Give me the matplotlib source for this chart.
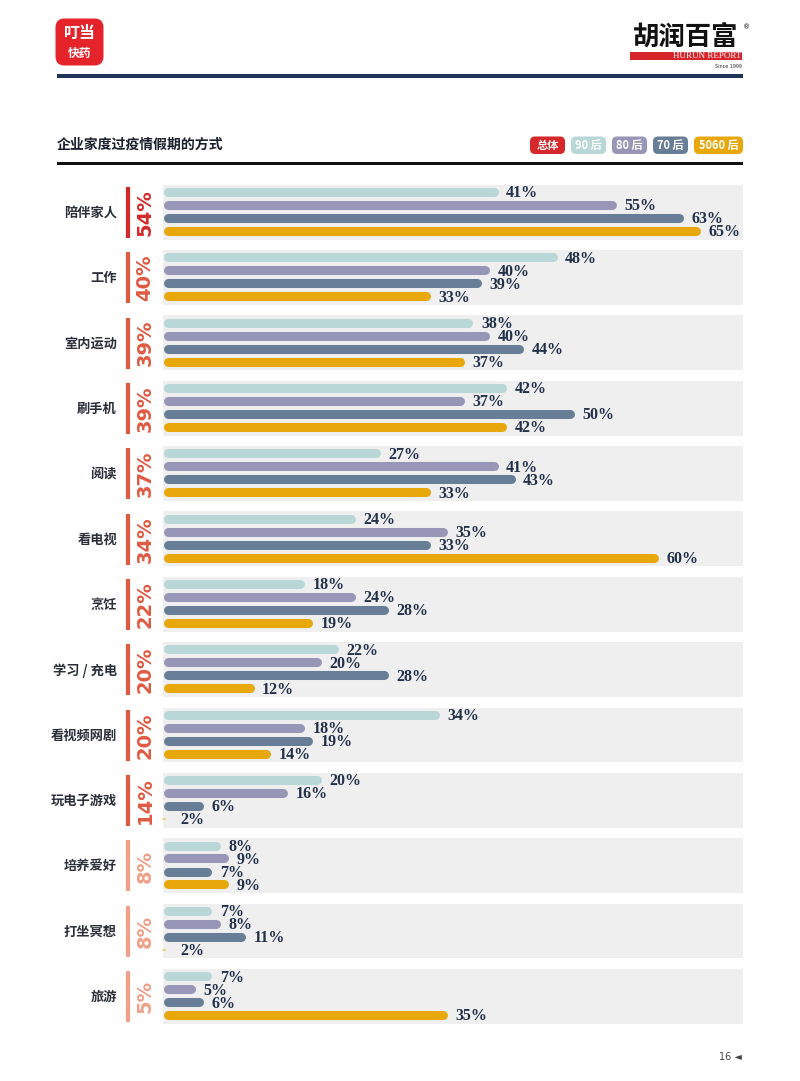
import matplotlib
matplotlib.use("Agg")
import matplotlib.pyplot as plt
from matplotlib.patches import Rectangle, FancyBboxPatch

plt.rcParams["font.family"] = ["Noto Sans CJK SC", "DejaVu Sans"]

# data
CATEGORIES = ["陪伴家人", "工作", "室内运动", "刷手机", "阅读", "看电视", "烹饪",
              "学习 / 充电", "看视频网剧", "玩电子游戏", "培养爱好", "打坐冥想", "旅游"]
TOTAL = [54, 40, 39, 39, 37, 34, 22, 20, 20, 14, 8, 8, 5]
GEN_90 = [41, 48, 38, 42, 27, 24, 18, 22, 34, 20, 8, 7, 7]
GEN_80 = [55, 40, 40, 37, 41, 35, 24, 20, 18, 16, 9, 8, 5]
GEN_70 = [63, 39, 44, 50, 43, 33, 28, 28, 19, 6, 7, 11, 6]
GEN_5060 = [65, 33, 37, 42, 33, 60, 19, 12, 14, 2, 9, 2, 35]
LEGEND_LABELS = ["总体", "90 后", "80 后", "70 后", "5060 后"]

TITLE = "企业家度过疫情假期的方式"

COLORS = ["#b9d7d6", "#9896b6", "#687d96", "#e8a80c"]
TOTAL_RED = "#d4282b"
TEXT_DARK = "#22304a"

W, H = 800, 1081
fig = plt.figure(figsize=(W / 100, H / 100), dpi=100)

# overlay in pixel coordinates for page decorations
deco = fig.add_axes([0, 0, 1, 1])
deco.set_xlim(0, W)
deco.set_ylim(H, 0)
deco.axis("off")

# logo left
deco.add_patch(FancyBboxPatch((57, 20), 45, 44, boxstyle="round,pad=1.5,rounding_size=9",
                              fc="#e5232b", ec="none"))
deco.text(79.5, 33, "叮当", color="white", fontsize=11.5, fontweight="bold", ha="center", va="center")
deco.text(79.5, 53, "快药", color="white", fontsize=8.5, fontweight="bold", ha="center", va="center")

# logo right
deco.text(686, 37, "胡润百富", color="#111111", fontsize=19, fontweight="bold", ha="center", va="center")
deco.text(747, 27, "®", color="#111111", fontsize=5, ha="center", va="center", family="DejaVu Sans")
deco.add_patch(Rectangle((630, 52), 112, 8, fc="#d7262b", ec="none"))
deco.text(741, 56.5, "HURUN REPORT", color="white", fontsize=6.5, ha="right", va="center",
          family="Liberation Serif")
deco.text(742, 66, "Since 1999", color="#333333", fontsize=3.5, ha="right", va="center",
          family="DejaVu Sans")

# header rule
deco.add_patch(Rectangle((57, 73.5), 686, 4.5, fc="#1d3557", ec="none"))

# title + legend badges
deco.text(57, 145, TITLE, color="#1a1f2c", fontsize=10, fontweight="bold", ha="left", va="center")
badge_x = [530, 571, 612, 653, 694]
badge_w = [35, 35, 35, 35, 49]
badge_c = [TOTAL_RED] + COLORS
for lab, bx, bw, bc in zip(LEGEND_LABELS, badge_x, badge_w, badge_c):
    deco.add_patch(FancyBboxPatch((bx + 2, 138.5), bw - 4, 13.5, boxstyle="round,pad=2,rounding_size=5",
                                  fc=bc, ec="none"))
    deco.text(bx + bw / 2, 145.5, lab, color="white", fontsize=8, fontweight="bold",
              ha="center", va="center")
deco.add_patch(Rectangle((57, 162), 686, 3, fc="#111111", ec="none"))

deco.text(742, 1057, "16 ◄", color="#444444", fontsize=7, ha="right", va="center",
          family="DejaVu Sans")

# main bar area
P0, SCALE = 148.5, 8.42          # pixel of x=0 (line end), px per %
GROUP0, GSTEP = 211.5, 65.35     # pixel of first group centre, group spacing
AX_L, AX_R = 163, 743
n = len(CATEGORIES)
ax_top = GROUP0 - GSTEP / 2
ax_bot = GROUP0 + GSTEP * (n - 0.5)
ax = fig.add_axes([AX_L / W, 1 - ax_bot / H, (AX_R - AX_L) / W, (ax_bot - ax_top) / H])
ax.patch.set_alpha(0)


def px2x(px):
    return (px - P0) / SCALE


ax.set_xlim(px2x(AX_L), px2x(AX_R))
ax.set_ylim(n - 0.5, -0.5)
ax.axis("off")

bar_start = px2x(AX_L + 4.5)
offsets = [-0.298, -0.0995, 0.0995, 0.298]
series = [GEN_90, GEN_80, GEN_70, GEN_5060]

for i, cat in enumerate(CATEGORIES):
    ax.add_patch(Rectangle((px2x(AX_L), i - 0.41), px2x(AX_R) - px2x(AX_L), 0.84,
                           fc="#efefef", ec="none", zorder=0))
    for vals, off, col in zip(series, offsets, COLORS):
        v = vals[i]
        end = max(v, bar_start)
        if v > bar_start:
            ax.plot([bar_start, v], [i + off, i + off], color=col, lw=6.5,
                    solid_capstyle="round", clip_on=False, zorder=2)
        else:
            # tiny values show only as a faint speck at the bar origin
            ax.plot([px2x(AX_L), px2x(AX_L + 1.5)], [i + off, i + off], color=col, lw=1.5,
                    alpha=0.4, clip_on=False, zorder=2)
        ax.text(end + 12.5 / SCALE, i + off + 0.02, f"{v}%", color=TEXT_DARK, fontsize=11.5,
                fontweight="bold", family="Liberation Serif", ha="left", va="center")

    t = TOTAL[i]
    tcol = "#d42a2a" if t >= 50 else ("#e05a42" if t >= 10 else "#f0a088")
    ax.plot([px2x(128), px2x(128)], [i - 0.375, i + 0.405], color=tcol, lw=3,
            solid_capstyle="butt", clip_on=False)
    ax.text(px2x(145), i + 0.015, f"{t}%", color=tcol, fontsize=14, fontweight="bold",
            family="DejaVu Sans", rotation=90, ha="center", va="center", clip_on=False)
    ax.text(px2x(117), i + 0.02, cat, color="#2b2f3a", fontsize=9.5, fontweight="bold",
            ha="right", va="center", clip_on=False)

fig.savefig("out.png", dpi=100)
